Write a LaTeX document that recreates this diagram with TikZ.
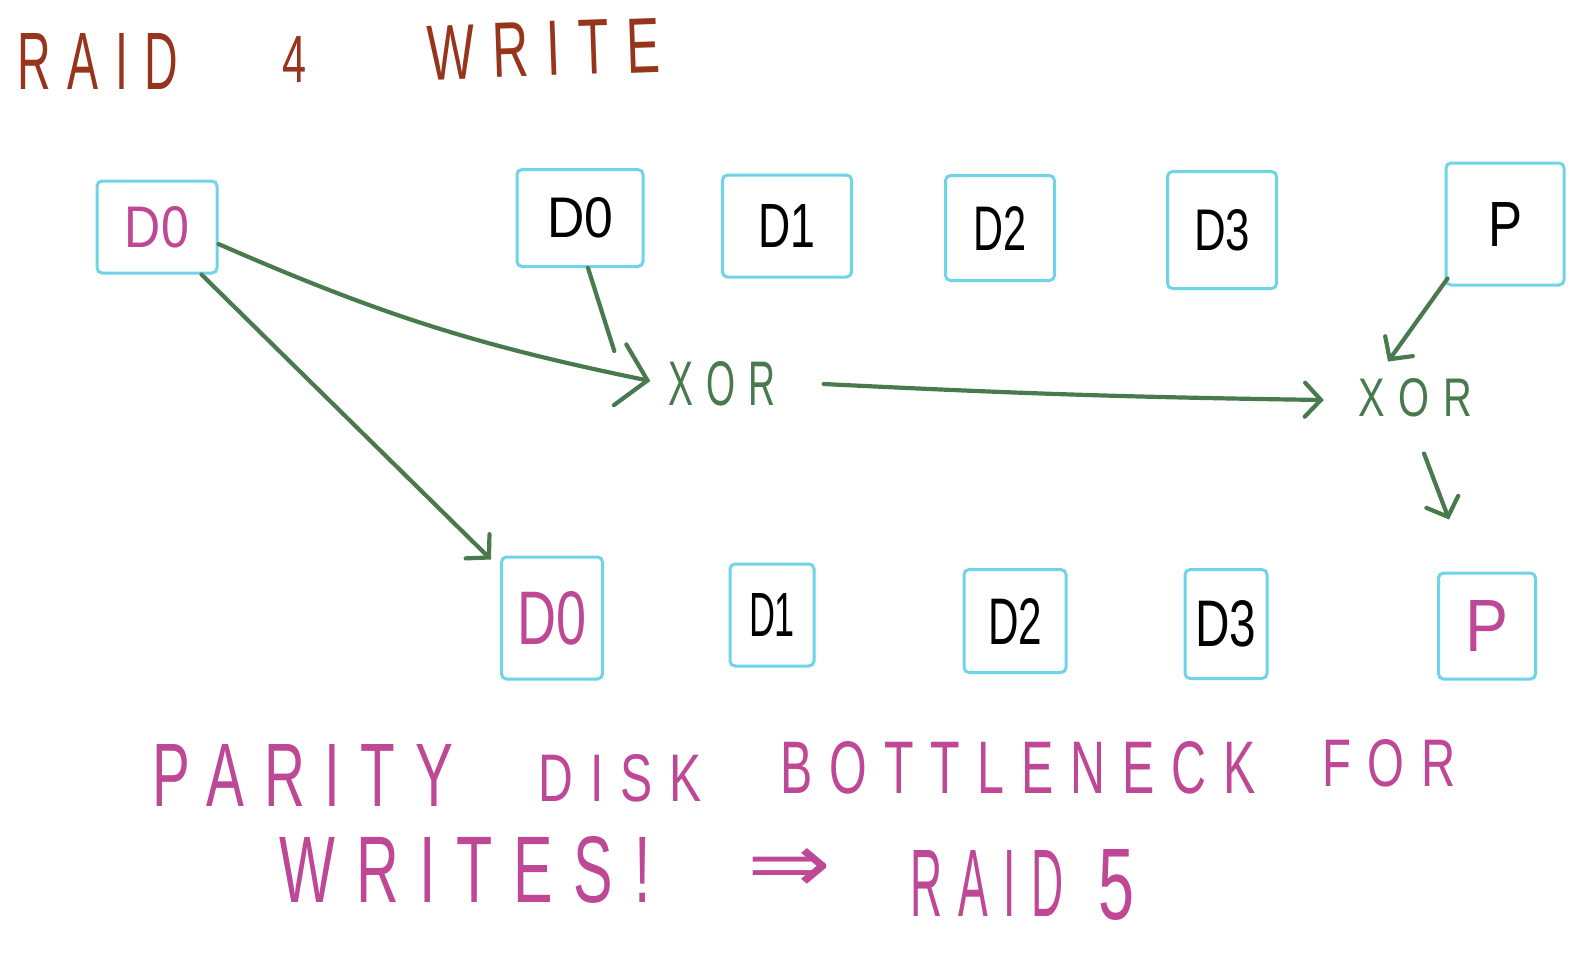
\documentclass[tikz,border=0pt]{standalone}
\usepackage{fontspec}
\setmainfont{Liberation Sans}
\newfontfamily\hand[LetterSpace=35]{Liberation Sans}
\newfontfamily\symf{DejaVu Sans}
\usepackage{graphicx}
\usetikzlibrary{arrows.meta}
\definecolor{boxc}{RGB}{110,212,230}
\definecolor{arrc}{RGB}{72,122,78}
\definecolor{titc}{RGB}{150,52,28}
\definecolor{pinkc}{RGB}{190,72,150}
\newcommand{\fitbox}[3]{\resizebox{#1pt}{#2pt}{#3}}
\begin{document}
\begin{tikzpicture}[x=1pt,y=-1pt,
  box/.style={draw=boxc, line width=3pt, rounded corners=5pt, inner sep=0pt, anchor=center},
  arr/.style={draw=arrc, line width=4.2pt, line cap=round, -{Straight Barb[length=16pt,width=34pt,line cap=round]}},
  bigarr/.style={draw=arrc, line width=4.2pt, line cap=round, -{Straight Barb[length=28pt,width=62pt,line cap=round]}},
  plain/.style={draw=arrc, line width=4.2pt, line cap=round},
  wordt/.style={inner sep=0pt, text=titc, font=\hand},
  wordp/.style={inner sep=0pt, text=pinkc, font=\hand},
  wordg/.style={inner sep=0pt, text=arrc, font=\hand}
]
\useasboundingbox[fill=white] (0,0) rectangle (1595,970);

% title
\node[wordt] (t1) at (98,61) {\fitbox{160}{56}{RAID}};
\node[wordt] (t2) at (294,59) {\fitbox{24}{46}{4}};
\node[wordt, rotate=2] (t3) at (544,49) {\fitbox{232}{54}{WRITE}};

% top row
\node[box, minimum width=120pt, minimum height=92pt, text=pinkc] (ld0) at (157,227) {\fitbox{64}{41}{D0}};
\node[box, minimum width=126pt, minimum height=97pt] (td0) at (580,218) {\fitbox{66}{40}{D0}};
\node[box, minimum width=129pt, minimum height=102pt] (td1) at (787,226) {\fitbox{57}{43}{D1}};
\node[box, minimum width=109pt, minimum height=105pt] (td2) at (1000,228) {\fitbox{53}{44}{D2}};
\node[box, minimum width=109pt, minimum height=117pt] (td3) at (1222,230) {\fitbox{56}{41}{D3}};
\node[box, minimum width=118pt, minimum height=122pt] (tp) at (1505,224) {\fitbox{34}{44}{P}};

% bottom row
\node[box, minimum width=101pt, minimum height=122pt, text=pinkc] (bd0) at (552,618) {\fitbox{69}{53}{D0}};
\node[box, minimum width=84pt, minimum height=102pt] (bd1) at (772,615) {\fitbox{46}{43}{D1}};
\node[box, minimum width=102pt, minimum height=103pt] (bd2) at (1015,621) {\fitbox{54}{46}{D2}};
\node[box, minimum width=82pt, minimum height=109pt] (bd3) at (1226,624) {\fitbox{61}{46}{D3}};
\node[box, minimum width=97pt, minimum height=106pt, text=pinkc] (bp) at (1487,626) {\fitbox{43}{51}{P}};

% xor nodes
\node[wordg] (xor1) at (722,384) {\fitbox{107}{44}{XOR}};
\node[wordg] (xor2) at (1415,398) {\fitbox{114}{38}{XOR}};

% connectors
\draw[bigarr] ([shift={(0,17)}]ld0.east) to[bend right=6] ([shift={(-18,-3)}]xor1.west);
\draw[plain] ([xshift=8]td0.south) -- ([shift={(-54,-33)}]xor1.west);
\draw[arr] ([xshift=-17]ld0.south east) -- ([shift={(-9,4)}]bd0.north west);
\draw[arr] ([xshift=48]xor1.east) to[bend right=1] ([shift={(-34,2)}]xor2.west);
\draw[arr] ([shift={(3,-8)}]tp.south west) -- ([shift={(-27,-17)}]xor2.north);
\draw[arr] ([shift={(9,36)}]xor2.south) -- ([shift={(-38,-52)}]bp.north);

% bottom text
\node[wordp] (b1) at (303,775) {\fitbox{300}{62}{PARITY}};
\node[wordp] (b2) at (620,778) {\fitbox{163}{47}{DISK}};
\node[wordp] (b3) at (1018,768) {\fitbox{475}{52}{BOTTLENECK}};
\node[wordp] (b4) at (1389,763) {\fitbox{133}{47}{FOR}};
\node[wordp] (b5) at (465,870) {\fitbox{371}{66}{WRITES!}};
\node[wordp] (b6) at (790,870) {\fitbox{84}{44}{\symf ⇒}};
\node[wordp] (b7) at (987,883) {\fitbox{153}{66}{RAID}};
\node[wordp] (b8) at (1116,885) {\fitbox{36}{70}{5}};
\end{tikzpicture}
\end{document}
